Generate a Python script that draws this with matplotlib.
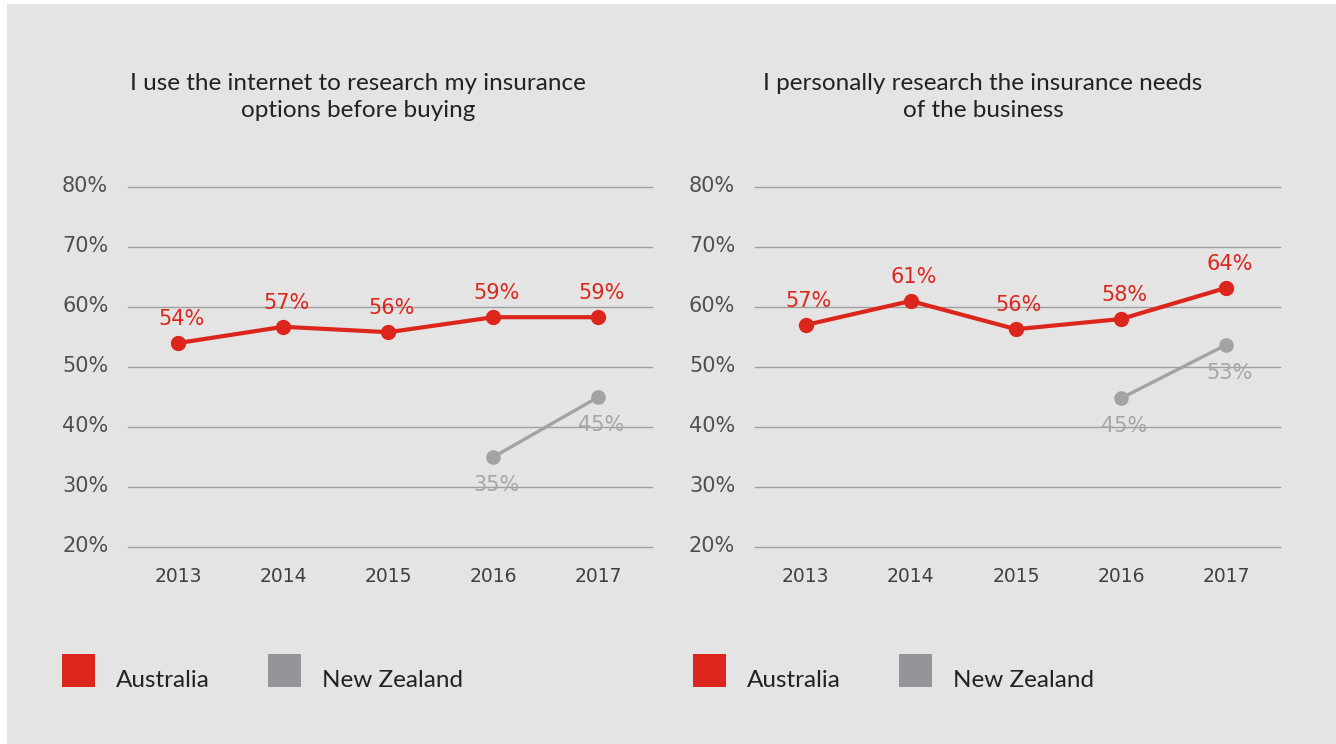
import matplotlib
matplotlib.use("Agg")
import matplotlib.pyplot as plt
from matplotlib.patches import Patch, Rectangle
from matplotlib.transforms import ScaledTranslation

plt.rcParams['font.family'] = ['Lato', 'DejaVu Sans']

years = [2013, 2014, 2015, 2016, 2017]
nz_years = [2016, 2017]

titles = ["I use the internet to research my insurance\noptions before buying",
          "I personally research the insurance needs\nof the business"]

aus_left = [54.0, 56.7, 55.8, 58.3, 58.3]
aus_left_labels = ["54%", "57%", "56%", "59%", "59%"]
nz_left = [35.0, 45.0]
nz_left_labels = ["35%", "45%"]

aus_right = [57.0, 61.0, 56.3, 58.0, 63.2]
aus_right_labels = ["57%", "61%", "56%", "58%", "64%"]
nz_right = [44.8, 53.7]
nz_right_labels = ["45%", "53%"]

y_ticks = [20, 30, 40, 50, 60, 70, 80]
y_tick_labels = ["20%", "30%", "40%", "50%", "60%", "70%", "80%"]
series_names = ["Australia", "New Zealand"]

RED = "#dc261c"
GREY_LINE = "#a3a3a3"
GREY_LEG = "#939598"
GREY_LBL = "#a6a6a6"
BG = "#e4e4e4"
NUM_FONT = "DejaVu Sans"

W, H = 1336, 744
fig = plt.figure(figsize=(W / 100, H / 100), dpi=100, facecolor="white")
fig.patches.append(Rectangle((7 / W, 0), 1 - 7 / W, 1 - 4 / H, transform=fig.transFigure,
                             facecolor=BG, edgecolor="none", zorder=-10))

panels = [
    dict(x0=128, x1=652, title_x=358, aus=aus_left, aus_lbl=aus_left_labels,
         nz=nz_left, nz_lbl=nz_left_labels, leg_x=62),
    dict(x0=755, x1=1280, title_x=983, aus=aus_right, aus_lbl=aus_right_labels,
         nz=nz_right, nz_lbl=nz_right_labels, leg_x=693),
]

px = 72 / 100  # points per pixel

for p, title in zip(panels, titles):
    ax = fig.add_axes([p["x0"] / W, (H - 547) / H, (p["x1"] - p["x0"]) / W, 360 / H])
    ax.set_facecolor("none")
    for s in ax.spines.values():
        s.set_visible(False)
    ax.set_xlim(2012.52, 2017.51)
    ax.set_ylim(20, 80)
    ax.set_yticks(y_ticks)
    ax.set_yticklabels(y_tick_labels, ha="left", fontsize=15, color="#505050", family=NUM_FONT)
    ax.set_xticks(years)
    ax.set_xticklabels([str(y) for y in years], fontsize=13.5, color="#404040", family=NUM_FONT)
    ax.tick_params(axis="y", length=0, pad=66 * px)
    ax.tick_params(axis="x", length=0, pad=20 * px)
    ax.grid(axis="y", color="#a0a0a0", linewidth=1.0)
    ax.grid(axis="x", visible=False)
    for gl in ax.get_ygridlines():
        gl.set_clip_on(False)
    for t in ax.yaxis.get_major_ticks():
        t.label1.set_transform(t.label1.get_transform() + ScaledTranslation(0, 3 / 100, fig.dpi_scale_trans))

    ax.plot(years, p["aus"], color=RED, linewidth=3.0, marker="o", markersize=10,
            clip_on=False, zorder=3)
    ax.plot(nz_years, p["nz"], color=GREY_LINE, linewidth=2.4, marker="o", markersize=9.5,
            clip_on=False, zorder=3)
    for x, y, l in zip(years, p["aus"], p["aus_lbl"]):
        ax.annotate(l, (x, y), xytext=(3 * px, 24 * px), textcoords="offset points",
                    ha="center", va="center", fontsize=15, color=RED, family=NUM_FONT)
    for x, y, l in zip(nz_years, p["nz"], p["nz_lbl"]):
        ax.annotate(l, (x, y), xytext=(3 * px, -28 * px), textcoords="offset points",
                    ha="center", va="center", fontsize=15, color=GREY_LBL, family=NUM_FONT)

    fig.text(p["title_x"] / W, 1 - 97 / H, title, ha="center", va="center",
             fontsize=17.5, color="#222222", linespacing=1.4)

    handles = [Patch(facecolor=RED, edgecolor="none"), Patch(facecolor=GREY_LEG, edgecolor="none")]
    leg = fig.legend(handles, series_names, loc="upper left",
                     bbox_to_anchor=(p["leg_x"] / W, 1 - 654 / H), ncol=2, frameon=False,
                     fontsize=17.5, handlelength=1.36, handleheight=1.71, handletextpad=0.86,
                     columnspacing=2.4, borderpad=0, borderaxespad=0, labelcolor="#222222")
    for t in leg.get_texts():
        t.set_position((0, -9))

fig.savefig("out.png", dpi=100, facecolor=fig.get_facecolor())
